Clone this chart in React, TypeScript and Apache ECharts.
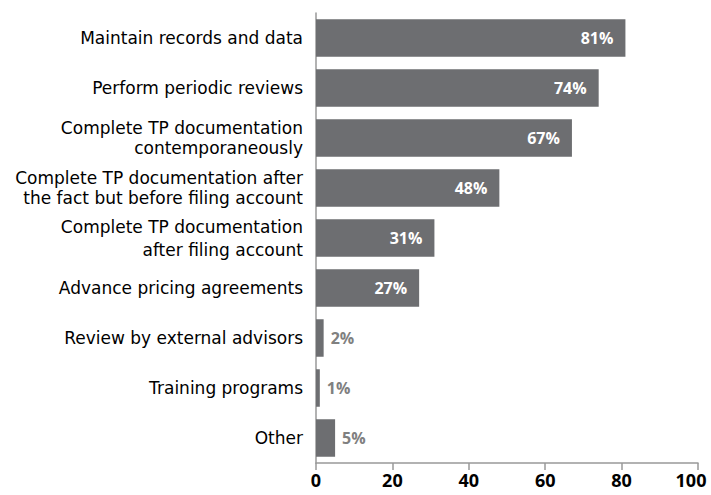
import React, { useEffect, useRef } from "react";
import * as echarts from "echarts";

const categories = [
  "Maintain records and data",
  "Perform periodic reviews",
  "Complete TP documentation\ncontemporaneously",
  "Complete TP documentation after\nthe fact but before filing account",
  "Complete TP documentation\nafter filing account",
  "Advance pricing agreements",
  "Review by external advisors",
  "Training programs",
  "Other",
];
const values = [81, 74, 67, 48, 31, 27, 2, 1, 5];
const xTicks = [0, 20, 40, 60, 80, 100];

const FONT = "'Open Sans', 'DejaVu Sans', sans-serif";
const CAT_FONT = "'DejaVu Sans', sans-serif";

export default function App() {
  const ref = useRef<HTMLDivElement>(null);
  useEffect(() => {
    if (!ref.current) return;
    const chart = echarts.init(ref.current, null, { renderer: "svg" });
    chart.setOption({
      animation: false,
      grid: { left: 316, right: 13, top: 13, bottom: 32, containLabel: false },
      xAxis: {
        type: "value",
        min: xTicks[0],
        max: xTicks[xTicks.length - 1],
        interval: 20,
        splitLine: { show: false },
        axisLine: { show: true, lineStyle: { color: "#999999", width: 1.5 } },
        axisTick: { show: true, length: 7, lineStyle: { color: "#999999", width: 1.5 } },
        axisLabel: {
          color: "#000",
          fontFamily: FONT,
          fontWeight: "bold",
          fontSize: 18,
          margin: 8,
          formatter: (v: number) => (v === xTicks[xTicks.length - 1] ? `{r|${v}}` : `${v}`),
          rich: {
            r: {
              color: "#000",
              fontFamily: FONT,
              fontWeight: "bold",
              fontSize: 18,
              padding: [0, 14, 0, 0],
            },
          },
        },
      },
      yAxis: {
        type: "category",
        inverse: true,
        data: categories.map((c, i) =>
          i === 4 ? { value: c, textStyle: { lineHeight: 23 } } : c
        ),
        axisLine: { show: true, lineStyle: { color: "#999999", width: 1.5 } },
        axisTick: { show: false },
        axisLabel: {
          color: "#000",
          fontFamily: CAT_FONT,
          fontSize: 17,
          lineHeight: 20,
          margin: 13,
          align: "right",
        },
      },
      series: [
        {
          type: "bar",
          barCategoryGap: "25%",
          data: values.map((v) => ({
            value: v,
            label:
              v >= 10
                ? { show: true, position: "insideRight", distance: 12, color: "#fff" }
                : { show: true, position: "right", distance: 7, color: "#808080" },
          })),
          itemStyle: { color: "#6d6e71" },
          label: {
            show: true,
            formatter: "{c}%",
            fontFamily: FONT,
            fontWeight: "bold",
            fontSize: 16,
          },
        },
      ],
    });
    return () => chart.dispose();
  }, []);
  return (
    <div
      ref={ref}
      style={{ position: "absolute", left: 0, top: 0, width: 711, height: 495 }}
    />
  );
}
